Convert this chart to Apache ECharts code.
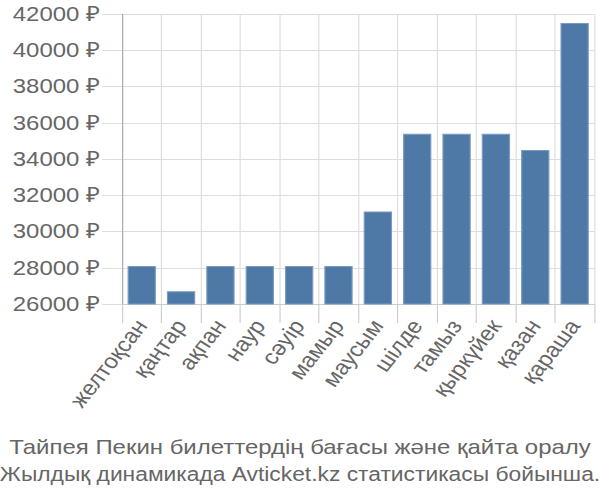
<!DOCTYPE html>
<html><head><meta charset="utf-8">
<script src="https://cdn.jsdelivr.net/npm/echarts@6/dist/echarts.min.js"></script>
<style>
html,body{margin:0;padding:0;background:#fff;overflow:hidden}
#c{width:526px;height:500px;transform:scaleX(1.1407);transform-origin:0 0}
</style>
</head><body><div id="c"></div>
<script>
const categories = ['желтоқсан','қаңтар','ақпан','наур','сәуір','мамыр','маусым','шілде','тамыз','қыркүйек','қазан','қараша'];
const prices = [28100, 26700, 28100, 28100, 28100, 28100, 31100, 35400, 35400, 35400, 34500, 41500];
const yTicks = [26000, 28000, 30000, 32000, 34000, 36000, 38000, 40000, 42000];
const titleLines = ['Тайпея Пекин билеттердің бағасы және қайта оралу', 'Жылдық динамикада Avticket.kz статистикасы бойынша.'];

const font = 'Liberation Sans';
const titleStyle = {fontFamily: font, fontWeight: 'normal', color: '#666'};
const chart = echarts.init(document.getElementById('c'), null, {renderer: 'svg'});
chart.setOption({
  animation: false,
  title: [
    {text: titleLines[0], left: 'center', top: 437, padding: 0,
     textStyle: Object.assign({fontSize: 21}, titleStyle)},
    {text: titleLines[1], left: 'center', top: 464, padding: 0,
     textStyle: Object.assign({fontSize: 20}, titleStyle)}
  ],
  grid: {left: 107, right: 5, top: 14, bottom: 196},
  xAxis: {
    type: 'category', data: categories,
    axisLine: {show: true, lineStyle: {color: '#ccc', width: 1}},
    axisTick: {show: true, length: 19, alignWithLabel: false, lineStyle: {color: '#ccc'}},
    splitLine: {show: true, lineStyle: {color: '#ddd'}},
    axisLabel: {rotate: 55, interval: 0, fontFamily: font, fontSize: 21, color: '#666', margin: 18}
  },
  yAxis: {
    type: 'value', min: yTicks[0], max: yTicks[yTicks.length-1], interval: 2000,
    axisLine: {show: true, lineStyle: {color: '#aaa', width: 1}},
    axisTick: {show: true, length: 17.5, lineStyle: {color: '#ddd'}},
    splitLine: {show: true, lineStyle: {color: '#ddd'}},
    axisLabel: {fontFamily: font, fontSize: 21, color: '#666', margin: 19.5, formatter: v => v + ' ₽'}
  },
  series: [{
    type: 'bar', data: prices, barCategoryGap: '28%',
    itemStyle: {color: '#4e79a7', borderColor: '#7a9cc2', borderWidth: 1}
  }]
});
</script></body></html>
